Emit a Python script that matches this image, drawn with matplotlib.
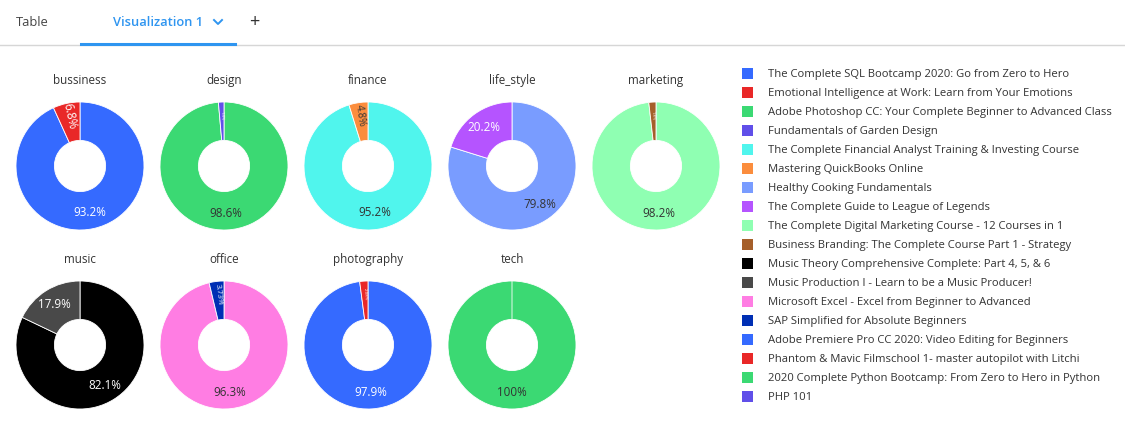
"""
Course share per category: grid of donut charts with a shared legend.
"""
import matplotlib
matplotlib.use('Agg')
import matplotlib.pyplot as plt
import numpy as np
from matplotlib.patches import Rectangle
from matplotlib.lines import Line2D

plt.rcParams['font.family'] = ['Open Sans', 'DejaVu Sans']

# --- data ---
categories = ['bussiness', 'design', 'finance', 'life_style', 'marketing',
              'music', 'office', 'photography', 'tech']

courses = [
    'The Complete SQL Bootcamp 2020: Go from Zero to Hero',
    'Emotional Intelligence at Work: Learn from Your Emotions',
    'Adobe Photoshop CC: Your Complete Beginner to Advanced Class',
    'Fundamentals of Garden Design',
    'The Complete Financial Analyst Training & Investing Course',
    'Mastering QuickBooks Online',
    'Healthy Cooking Fundamentals',
    'The Complete Guide to League of Legends',
    'The Complete Digital Marketing Course - 12 Courses in 1',
    'Business Branding: The Complete Course Part 1 - Strategy',
    'Music Theory Comprehensive Complete: Part 4, 5, & 6',
    'Music Production I - Learn to be a Music Producer!',
    'Microsoft Excel - Excel from Beginner to Advanced',
    'SAP Simplified for Absolute Beginners',
    'Adobe Premiere Pro CC 2020: Video Editing for Beginners',
    'Phantom & Mavic Filmschool 1- master autopilot with Litchi',
    '2020 Complete Python Bootcamp: From Zero to Hero in Python',
    'PHP 101',
]

course_category = ['bussiness', 'bussiness', 'design', 'design', 'finance', 'finance',
                   'life_style', 'life_style', 'marketing', 'marketing', 'music', 'music',
                   'office', 'office', 'photography', 'photography', 'tech', 'tech']

# percent of the category total
course_share = [93.2, 6.8, 98.6, 1.4, 95.2, 4.8, 79.8, 20.2, 98.2, 1.8,
                82.1, 17.9, 96.27, 3.73, 97.92, 2.08, 100.0, 0.0]

course_colors = ['#356AFF', '#E92828', '#3BD973', '#604FE9', '#50F5ED', '#FB8D3D',
                 '#799CFF', '#B554FF', '#8FFFB2', '#A55F2A', '#000000', '#494949',
                 '#FF7DE3', '#002FB4', '#356AFF', '#E92828', '#3BD973', '#604FE9']

DARK_TEXT = {'#3BD973', '#50F5ED', '#FB8D3D', '#799CFF', '#8FFFB2', '#FF7DE3'}

# --- layout (pixels) ---
W, H = 1125, 430
R = 64
col_x = [80, 224, 368, 512, 656]
row_y = [166, 345]
TEXT = '#333333'
BLUE = '#2F95F0'

fig = plt.figure(figsize=(W / 100, H / 100), dpi=100)
fig.patch.set_facecolor('white')

# header tabs
fig.text(16 / W, 1 - 22.5 / H, 'Table', fontsize=9.3, color='#444444', va='center')
fig.text(113 / W, 1 - 22.5 / H, 'Visualization 1', fontsize=9.3, color=BLUE,
         va='center', fontweight='semibold')
fig.add_artist(Line2D([214 / W, 218 / W, 222 / W], [1 - 20 / H, 1 - 24 / H, 1 - 20 / H],
                      color=BLUE, lw=1.4))
fig.text(254 / W, 1 - 22 / H, '+', fontsize=13, color='#333333', va='center', ha='center')
fig.add_artist(Line2D([0, 1], [1 - 45 / H, 1 - 45 / H], color='#D6D6D6', lw=1))
fig.add_artist(Line2D([81 / W, 235 / W], [1 - 44 / H, 1 - 44 / H], color=BLUE, lw=2.2))

for i, cat in enumerate(categories):
    cx = col_x[i % 5]
    cy = row_y[i // 5]
    ax = fig.add_axes([(cx - R) / W, 1 - (cy + R) / H, 2 * R / W, 2 * R / H])
    idx = [k for k, c in enumerate(course_category) if c == cat]
    vals = [course_share[k] for k in idx]
    cols = [course_colors[k] for k in idx]
    wedges, _ = ax.pie(vals, colors=cols, startangle=90, counterclock=False,
                       wedgeprops=dict(width=0.6, edgecolor='white', linewidth=0.6))
    ax.set_xlim(-1, 1)
    ax.set_ylim(-1, 1)
    ax.text(0.5, 1.165, cat, transform=ax.transAxes, ha='center', va='center',
            fontsize=8.4, color=TEXT)

    for w, v, c in zip(wedges, vals, cols):
        if v <= 0:
            continue
        mid = np.deg2rad((w.theta1 + w.theta2) / 2)
        tc = '#333333' if c in DARK_TEXT else 'white'
        label = f'{v:.3g}%'
        if v < 10:
            r = 0.79
            size = max(3, min(8.5, v * 1.5))
            ax.text(r * np.cos(mid), r * np.sin(mid), label, ha='center', va='center',
                    rotation=np.rad2deg(mid) - 180, rotation_mode='anchor',
                    fontsize=size, color=tc)
        else:
            r = 0.74
            ax.text(r * np.cos(mid), r * np.sin(mid), label, ha='center', va='center',
                    fontsize=8.4, color=tc)

# legend
leg = fig.add_axes([0, 0, 1, 1])
leg.set_xlim(0, W)
leg.set_ylim(H, 0)
leg.axis('off')
for k, name in enumerate(courses):
    y = 73 + 19 * k
    leg.add_patch(Rectangle((742, y - 5.5), 11, 11, facecolor=course_colors[k],
                            edgecolor='none'))
    leg.text(768, y + 1.5, name, fontsize=8.15, color=TEXT, va='center')

fig.savefig('out.png', dpi=100)
